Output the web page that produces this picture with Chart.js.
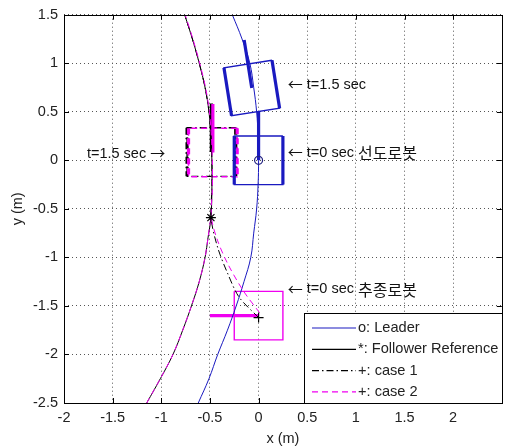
<!DOCTYPE html>
<html>
<head>
<meta charset="utf-8">
<script src="https://cdn.jsdelivr.net/npm/chart.js@4.4.0/dist/chart.umd.min.js"></script>
<style>
  html, body { margin: 0; padding: 0; background: #fff; }
</style>
</head>
<body>
<canvas id="chart" width="508" height="448"></canvas>
<script>
// ===== Data =====
const xTicks = [-2, -1.5, -1, -0.5, 0, 0.5, 1, 1.5, 2];
const yTicks = [-2.5, -2, -1.5, -1, -0.5, 0, 0.5, 1, 1.5];

// leader path (o)
const leaderX = [-0.27, -0.17, -0.09, -0.05, -0.02, -0.005, 0, -0.005, -0.02, -0.05, -0.08, -0.15, -0.23, -0.32, -0.42, -0.51, -0.62];
const leaderY = [1.5, 1.25, 1.0, 0.75, 0.5, 0.25, 0, -0.25, -0.5, -0.75, -1.0, -1.25, -1.5, -1.75, -2.0, -2.25, -2.5];

// follower reference path (*)
const refX = [-0.76, -0.68, -0.61, -0.55, -0.51, -0.49, -0.48, -0.48, -0.49, -0.52, -0.55, -0.61, -0.69, -0.78, -0.88, -1.01, -1.15];
const refY = [1.5, 1.25, 1.0, 0.75, 0.5, 0.25, 0, -0.3, -0.59, -0.8, -1.0, -1.25, -1.5, -1.75, -2.0, -2.25, -2.5];

// case 1 follower path (+)
const case1X = [0.0, -0.2, -0.32, -0.42, -0.49, -0.48, -0.48, -0.49, -0.51, -0.55, -0.61, -0.68, -0.76];
const case1Y = [-1.62, -1.41, -1.16, -0.9, -0.59, -0.3, 0, 0.25, 0.5, 0.75, 1.0, 1.25, 1.5];

// case 2 follower path (+), null = break
const case2X = [-1.15, -1.01, -0.88, -0.78, -0.69, -0.61, -0.55, -0.52, -0.49, null, 0.01, -0.16, -0.32, -0.42, -0.485, -0.475, -0.475, -0.485, -0.505, -0.545, -0.605, -0.675, -0.755];
const case2Y = [-2.5, -2.25, -2.0, -1.75, -1.5, -1.25, -1.0, -0.8, -0.59, null, -1.57, -1.34, -1.06, -0.83, -0.59, -0.3, 0, 0.25, 0.5, 0.75, 1.0, 1.25, 1.5];

// robot poses: centre and heading (deg)
const robotKind = ['leader', 'leader', 'start2', 'case1', 'case2'];
const robotX = [0, -0.07, 0.0, -0.485, -0.47];
const robotY = [0, 0.745, -1.6, 0.085, 0.08];
const robotHeading = [90, 99, 180, 90, 90];

// text notes: [arrow before, text, korean, arrow after]
const noteText = [['←', ' t=1.5 sec', '', ''], ['←', ' t=0 sec ', '선도로봇', ''], ['', 't=1.5 sec ', '', '→'], ['←', ' t=0 sec ', '추종로봇', '']];
const noteX = [0.30, 0.30, -0.96, 0.30];
const noteY = [0.78, 0.08, 0.07, -1.33];

// ===== Styles =====
const BLUE = '#1a1ac0';
const MAG = '#f000f0';
const FONT = '"Liberation Sans", Arial, sans-serif';
const CJK = '"Noto Sans CJK KR", sans-serif';
const kindStyle = {
  leader: { color: BLUE, dash: [], wheels: true, order: 5 },
  start2: { color: MAG, dash: [], wheels: false, order: 5 },
  case1: { color: '#000', dash: [7, 3, 1.5, 3], wheels: true, order: 6 },
  case2: { color: MAG, dash: [6, 4], wheels: true, order: 5 }
};

const pts = (xs, ys) => xs.map((x, i) => ({ x: x, y: ys[i] }));

const datasets = [];

// robots (squares of side 0.5, wheels and heading line)
robotKind.forEach((k, i) => {
  const st = kindStyle[k];
  const a = robotHeading[i] * Math.PI / 180;
  const hx = Math.cos(a), hy = Math.sin(a);
  const sx = Math.sin(a), sy = -Math.cos(a);
  const c = { x: robotX[i], y: robotY[i] };
  const corner = (f, s) => ({ x: c.x + 0.25 * (f * hx + s * sx), y: c.y + 0.25 * (f * hy + s * sy) });
  const base = { showLine: true, pointRadius: 0, tension: 0, borderColor: st.color, borderDash: st.dash, order: st.order };
  datasets.push(Object.assign({}, base, {
    data: [corner(1, 1), corner(1, -1), corner(-1, -1), corner(-1, 1), corner(1, 1)],
    borderWidth: 1.4
  }));
  if (st.wheels) {
    datasets.push(Object.assign({}, base, { data: [corner(1, 1), corner(-1, 1)], borderWidth: 3.2 }));
    datasets.push(Object.assign({}, base, { data: [corner(1, -1), corner(-1, -1)], borderWidth: 3.2 }));
  }
  datasets.push(Object.assign({}, base, {
    data: [c, { x: c.x + 0.5 * hx, y: c.y + 0.5 * hy }],
    borderWidth: 3.2, borderDash: [], order: st.order - 1
  }));
});

// paths
datasets.push({ label: 'o: Leader', inLegend: true, data: pts(leaderX, leaderY), showLine: true, pointRadius: 0,
  borderColor: BLUE, borderWidth: 1, tension: 0.4, order: 3 });
datasets.push({ label: '*: Follower Reference', inLegend: true, data: pts(refX, refY), showLine: true, pointRadius: 0,
  borderColor: '#000', borderWidth: 1, tension: 0.4, order: 3 });
datasets.push({ label: '+: case 1', inLegend: true, data: pts(case1X, case1Y), showLine: true, pointRadius: 0,
  borderColor: '#000', borderWidth: 1, borderDash: [7, 3, 1.5, 3], tension: 0.3, order: 2 });
datasets.push({ label: '+: case 2', inLegend: true, data: pts(case2X, case2Y), showLine: true, pointRadius: 0,
  borderColor: MAG, borderWidth: 1, borderDash: [6, 4], tension: 0.3, spanGaps: false, order: 1 });

// markers
datasets.push({ data: [{ x: leaderX[6], y: leaderY[6] }], pointStyle: 'circle', pointRadius: 4, borderColor: '#202080',
  backgroundColor: 'rgba(0,0,0,0)', borderWidth: 1.2, order: 0 });
datasets.push({ data: [{ x: refX[8], y: refY[8] }], pointStyle: 'star', pointRadius: 5, borderColor: '#000', borderWidth: 1.2, order: 0 });
datasets.push({ data: [{ x: case1X[0], y: case1Y[0] }], pointStyle: 'cross', pointRadius: 5, borderColor: '#000', borderWidth: 1.2, order: 0 });

// ===== Plugins =====
const framePlugin = {
  id: 'frame',
  afterDatasetsDraw(chart) {
    const { ctx, chartArea: ca, scales } = chart;
    ctx.save();
    // notes
    const runFonts = ['15px ' + CJK, '14.5px ' + FONT, '16px ' + CJK, '15px ' + CJK];
    noteText.forEach((parts, i) => {
      const px = scales.x.getPixelForValue(noteX[i]);
      const py = scales.y.getPixelForValue(noteY[i]);
      ctx.textBaseline = 'middle';
      ctx.textAlign = 'left';
      ctx.fillStyle = '#111';
      const widths = parts.map((t, j) => { ctx.font = runFonts[j]; return t ? ctx.measureText(t).width : 0; });
      const total = widths.reduce((a, b) => a + b, 0);
      let x = noteX[i] < 0 ? px - total : px;
      parts.forEach((t, j) => {
        if (!t) return;
        ctx.font = runFonts[j];
        ctx.fillText(t, x, py + (j === 1 ? 0 : 0));
        x += widths[j];
      });
    });
    // inside tick marks
    ctx.strokeStyle = '#000';
    ctx.lineWidth = 1;
    ctx.beginPath();
    xTicks.forEach(v => {
      const p = Math.round(scales.x.getPixelForValue(v)) + 0.5;
      ctx.moveTo(p, ca.bottom); ctx.lineTo(p, ca.bottom - 5);
      ctx.moveTo(p, ca.top); ctx.lineTo(p, ca.top + 5);
    });
    yTicks.forEach(v => {
      const p = Math.round(scales.y.getPixelForValue(v)) + 0.5;
      ctx.moveTo(ca.left, p); ctx.lineTo(ca.left + 5, p);
      ctx.moveTo(ca.right, p); ctx.lineTo(ca.right - 5, p);
    });
    ctx.stroke();
    ctx.strokeRect(Math.round(ca.left) + 0.5, Math.round(ca.top) + 0.5, Math.round(ca.right - ca.left), Math.round(ca.bottom - ca.top));
    ctx.restore();
  }
};

const legendBox = {
  id: 'legendBox',
  afterDraw(chart) {
    const { ctx, chartArea: ca } = chart;
    const w = 198, h = 90;
    const x0 = Math.round(ca.right) - w, y0 = Math.round(ca.bottom) - h;
    ctx.save();
    ctx.fillStyle = '#fff';
    ctx.fillRect(x0, y0, w, h);
    ctx.strokeStyle = '#000';
    ctx.lineWidth = 1;
    ctx.strokeRect(x0 + 0.5, y0 + 0.5, w, h);
    chart.data.datasets.filter(d => d.inLegend).forEach((d, i) => {
      const yy = y0 + 15 + i * 21.3;
      ctx.beginPath();
      ctx.setLineDash(d.borderDash || []);
      ctx.strokeStyle = d.borderColor;
      ctx.lineWidth = 1.2;
      ctx.moveTo(x0 + 8, yy);
      ctx.lineTo(x0 + 52, yy);
      ctx.stroke();
      ctx.setLineDash([]);
      ctx.fillStyle = '#222';
      ctx.font = '14.6px ' + FONT;
      ctx.textBaseline = 'middle';
      ctx.textAlign = 'left';
      ctx.fillText(d.label, x0 + 54, yy);
    });
    ctx.restore();
  }
};

// ===== Chart =====
Chart.defaults.font.family = FONT;
Chart.defaults.font.size = 14.5;
Chart.defaults.color = '#222';

new Chart(document.getElementById('chart').getContext('2d'), {
  type: 'scatter',
  data: { datasets: datasets },
  options: {
    responsive: false,
    animation: false,
    layout: { padding: { left: 0, right: 5, top: 13, bottom: 0 } },
    plugins: { legend: { display: false }, tooltip: { enabled: false } },
    scales: {
      x: {
        type: 'linear', min: -2, max: 2.5,
        afterBuildTicks: s => { s.ticks = xTicks.map(v => ({ value: v })); },
        afterFit: s => { s.height = 45; },
        ticks: { padding: 6, callback: v => String(v) },
        grid: { color: '#555', drawTicks: false },
        border: { display: false, dash: [1, 3] },
        title: { display: true, text: 'x (m)', padding: { top: 0, bottom: 0 } }
      },
      y: {
        type: 'linear', min: -2.5, max: 1.5,
        afterBuildTicks: s => { s.ticks = yTicks.map(v => ({ value: v })); },
        afterFit: s => { s.width = 64; },
        ticks: { padding: 6, callback: v => String(v) },
        grid: { color: '#555', drawTicks: false },
        border: { display: false, dash: [1, 3] },
        title: { display: true, text: 'y (m)', padding: { top: 9, bottom: 0 } }
      }
    }
  },
  plugins: [framePlugin, legendBox]
});
</script>
</body>
</html>
